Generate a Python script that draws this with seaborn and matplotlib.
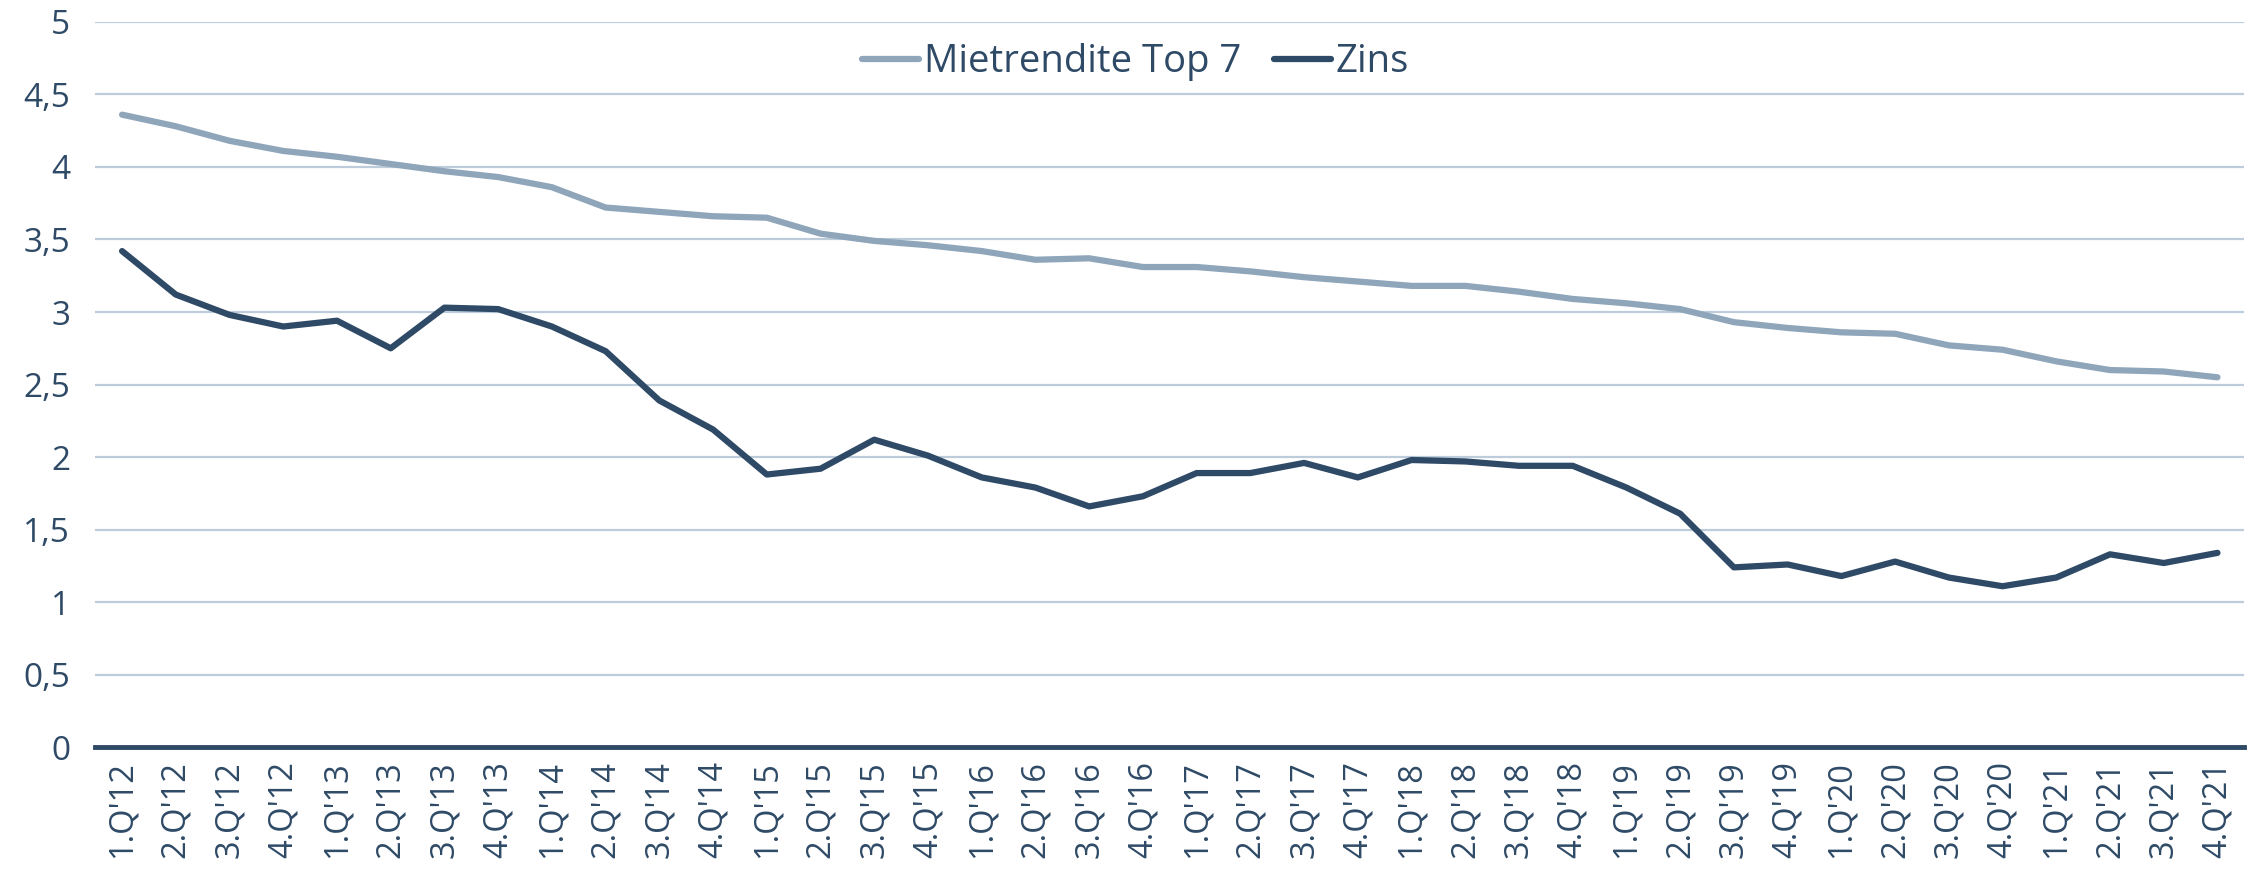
import matplotlib
import numpy as np
import pandas as pd
import seaborn as sns
from matplotlib import pyplot as plt
from matplotlib.ticker import FuncFormatter

matplotlib.use("Agg")

# quarters 1.Q'12 .. 4.Q'21
quarters = [f"{q}.Q'{y}" for y in range(12, 22) for q in range(1, 5)]

mietrendite = [
    4.36, 4.28, 4.18, 4.11, 4.07, 4.02, 3.97, 3.93, 3.86, 3.72,
    3.69, 3.66, 3.65, 3.54, 3.49, 3.46, 3.42, 3.36, 3.37, 3.31,
    3.31, 3.28, 3.24, 3.21, 3.18, 3.18, 3.14, 3.09, 3.06, 3.02,
    2.93, 2.89, 2.86, 2.85, 2.77, 2.74, 2.66, 2.60, 2.59, 2.55,
]
zins = [
    3.42, 3.12, 2.98, 2.90, 2.94, 2.75, 3.03, 3.02, 2.90, 2.73,
    2.39, 2.19, 1.88, 1.92, 2.12, 2.01, 1.86, 1.79, 1.66, 1.73,
    1.89, 1.89, 1.96, 1.86, 1.98, 1.97, 1.94, 1.94, 1.79, 1.61,
    1.24, 1.26, 1.18, 1.28, 1.17, 1.11, 1.17, 1.33, 1.27, 1.34,
]
series_names = ["Mietrendite Top 7", "Zins"]

light = "#8FA5BA"
dark = "#2E4A66"
grid_color = "#BCCCDA"

sns.set_theme(style="white")
plt.rcParams["font.family"] = ["Open Sans", "DejaVu Sans"]

df = pd.DataFrame({"quarter": quarters, series_names[0]: mietrendite, series_names[1]: zins})
long_df = df.melt(id_vars="quarter", var_name="serie", value_name="wert")
long_df["pos"] = long_df["quarter"].map({q: i for i, q in enumerate(quarters)})

fig = plt.figure(figsize=(22.67, 8.72), dpi=100)
ax = fig.add_axes([0.042, 0.143, 0.948, 0.832])

sns.lineplot(
    data=long_df,
    x="pos",
    y="wert",
    hue="serie",
    hue_order=series_names,
    palette=[light, dark],
    linewidth=4.5,
    ax=ax,
)

ax.set_ylim(0, 5)
ax.set_xlim(-0.5, len(quarters) - 0.5)
ax.set_yticks(np.arange(0, 5.01, 0.5))
ax.yaxis.set_major_formatter(
    FuncFormatter(lambda v, _: ("%g" % v).replace(".", ","))
)
ax.set_xticks(range(len(quarters)))
ax.set_xticklabels(quarters, rotation=90)
ax.tick_params(axis="y", labelsize=24, labelcolor=dark, length=0, pad=18)
ax.tick_params(axis="x", labelsize=23.5, labelcolor=dark, length=0, pad=10)
ax.set_xlabel("")
ax.set_ylabel("")

ax.grid(axis="y", color=grid_color, linewidth=1.6)
ax.set_axisbelow(True)
for s in ["top", "right", "left"]:
    ax.spines[s].set_visible(False)
ax.spines["bottom"].set_color(dark)
ax.spines["bottom"].set_linewidth(3.5)
ax.spines["bottom"].set_zorder(5)

leg = ax.legend(
    loc="center",
    bbox_to_anchor=(0.484, 0.944),
    ncol=2,
    frameon=False,
    fontsize=27.5,
    handlelength=1.5,
    columnspacing=0.85,
    handletextpad=0.12,
)
for t in leg.get_texts():
    t.set_color(dark)

fig.savefig("out.png", dpi=100)
